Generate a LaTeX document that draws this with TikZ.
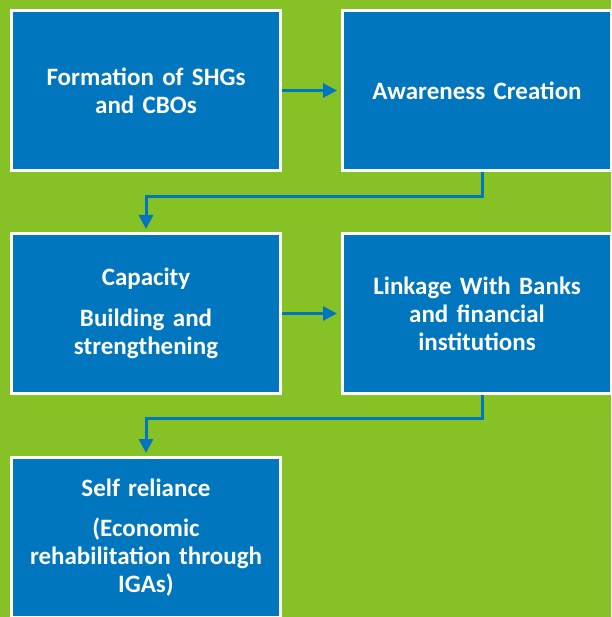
\documentclass[tikz,border=0pt]{standalone}
\usepackage{fontspec}
\setmainfont{Carlito}[WordSpace=0.85]
\usepackage{tikz}
\usetikzlibrary{arrows.meta, positioning}
\definecolor{bggreen}{RGB}{134,193,38}
\definecolor{boxblue}{RGB}{0,118,190}
\tikzstyle{block} = [draw=white, line width=3pt, fill=boxblue, rectangle, minimum width=269pt, minimum height=160pt, text width=262pt, align=center, text=white, font=\fontsize{25pt}{28pt}\selectfont\bfseries]
\tikzstyle{link} = [draw=boxblue, line width=3pt]

\begin{document}
\begin{tikzpicture}[x=1pt, y=1pt, >={Triangle[length=14pt, width=14pt]}]
    \fill[bggreen] (0,0) rectangle (611,-617);
    \useasboundingbox (0,0) rectangle (611,-617);
    \node[block] (form) at (146,-90.5) {Formation of SHGs\\and CBOs};
    \node[block, right=59pt of form] (aware) {Awareness Creation};
    \node[block, below=60pt of form] (cap) {Capacity\\[13pt]Building and\\strengthening};
    \node[block, right=59pt of cap] (link) {Linkage With Banks\\and financial\\institutions};
    \node[block, below=61pt of cap] (self) {Self reliance\\[12pt](Economic\\rehabilitation through\\IGAs)};
    \draw[link, ->, shorten >=4pt] (form) -- (aware);
    \draw[link, ->, shorten >=4pt] (cap) -- (link);
    \draw[link, ->, shorten >=3pt] ([xshift=5pt]aware.south) -- ++(0,-25) -| (cap.north);
    \draw[link, ->, shorten >=3pt] ([xshift=5pt]link.south) -- ++(0,-23) -| (self.north);
\end{tikzpicture}
\end{document}
